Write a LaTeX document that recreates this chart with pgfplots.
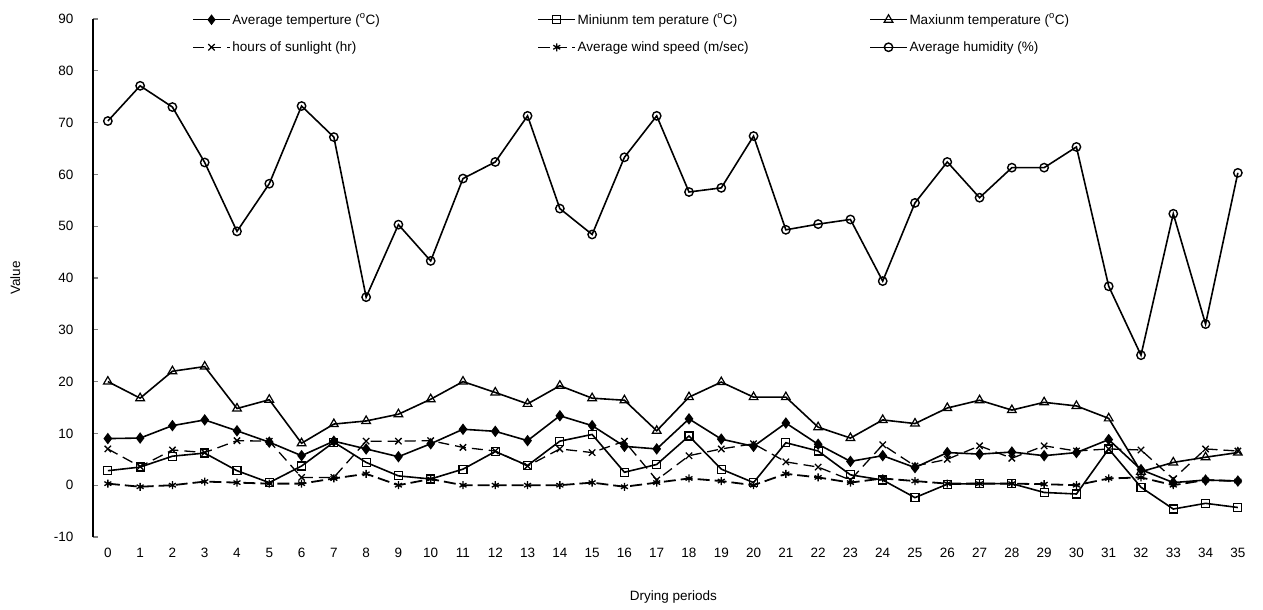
\documentclass[border=0pt]{standalone}
\usepackage{pgfplots}
\pgfplotsset{compat=1.18}
\usepackage{pgfplotstable}
\usepackage{fontspec}
\setmainfont{Liberation Sans}
\pgfplotstableread{
p avg min max sun wind hum
0 9.0 2.8 20.0 7.0 0.3 70.3
1 9.1 3.5 16.8 3.6 -0.3 77.1
2 11.5 5.6 22.0 6.8 0.0 73.0
3 12.6 6.2 22.9 6.3 0.7 62.3
4 10.5 2.8 14.8 8.6 0.5 49.0
5 8.3 0.5 16.5 8.5 0.3 58.2
6 5.7 3.7 8.1 1.5 0.3 73.2
7 8.5 8.3 11.8 1.5 1.3 67.2
8 7.0 4.4 12.4 8.5 2.2 36.3
9 5.5 1.8 13.7 8.5 0.0 50.3
10 8.0 1.2 16.6 8.6 1.2 43.3
11 10.8 3.1 20.0 7.3 0.0 59.2
12 10.4 6.5 17.9 6.6 0.0 62.4
13 8.6 3.8 15.7 3.7 0.0 71.3
14 13.4 8.5 19.2 7.0 0.0 53.4
15 11.5 9.8 16.8 6.3 0.5 48.4
16 7.5 2.5 16.4 8.5 -0.3 63.3
17 7.0 4.0 10.5 1.0 0.5 71.3
18 12.8 9.5 17.0 5.7 1.3 56.6
19 8.9 3.1 19.9 7.0 0.8 57.4
20 7.5 0.5 17.0 8.0 0.0 67.4
21 12.0 8.2 17.0 4.5 2.2 49.3
22 7.9 6.6 11.2 3.5 1.5 50.4
23 4.6 2.0 9.1 1.0 0.5 51.3
24 5.7 1.0 12.6 7.8 1.3 39.4
25 3.4 -2.4 11.9 3.7 0.8 54.5
26 6.3 0.2 14.9 5.0 0.3 62.4
27 6.0 0.3 16.4 7.6 0.3 55.5
28 6.4 0.3 14.5 5.2 0.3 61.3
29 5.7 -1.4 16.0 7.6 0.2 61.3
30 6.3 -1.7 15.3 6.6 0.0 65.3
31 8.8 7.0 12.9 7.0 1.3 38.4
32 3.0 -0.4 2.6 6.8 1.5 25.1
33 0.5 -4.6 4.4 1.2 0.0 52.4
34 1.0 -3.5 5.4 7.0 1.0 31.1
35 0.8 -4.3 6.3 6.6 0.8 60.3
}\data
\begin{document}
\begin{tikzpicture}
\path[use as bounding box] (0,0) rectangle (1263bp,610bp);
\begin{axis}[
  at={(93bp,73bp)}, anchor=south west,
  scale only axis, width=1161bp, height=518bp,
  xmin=-0.46, xmax=35.5, ymin=-10, ymax=90,
  axis y line=left, axis x line*=bottom,
  axis line style={-, line width=1.3bp},
  x axis line style={draw=none},
  xtick={0,...,35}, ytick={-10,0,...,90},
  xtick style={draw=none},
  ytick style={line width=1.1bp},
  tick align=inside, major tick length=5bp,
  yticklabel style={xshift=-16bp},
  xticklabel style={yshift=-8bp},
  tick label style={font=\fontsize{13.5bp}{15bp}\selectfont},
  /pgf/number format/assume math mode=true,
  xlabel={Drying periods}, ylabel={Value},
  label style={font=\fontsize{13.5bp}{15bp}\selectfont},
  xlabel style={at={(axis description cs:0.5,-0.116)}, anchor=center},
  ylabel style={at={(axis description cs:-0.067,0.5)}, anchor=center},
  every axis plot/.append style={line width=1.6bp, black},
  legend columns=3,
  legend cell align=left,
  legend style={draw=none, fill=none, at={(0.083,1.018)}, anchor=north west,
    font=\fontsize{13.5bp}{15bp}\selectfont,
    row sep=12bp,
    /tikz/column 2/.style={column sep=156bp},
    /tikz/column 4/.style={column sep=119bp}},
  legend image code/.code={\draw[mark repeat=2,mark phase=2, line width=1.1bp] plot coordinates {(0cm,0cm) (0.65cm,0cm) (1.3cm,0cm)};},
]
\addplot[mark=diamond*, mark size=4.5bp, mark options={solid, fill=black}] table[x=p,y=avg]{\data};
\addlegendentry{Average temperture ($^{\mathrm{o}}$C)}
\addplot[mark=square, mark size=4bp, mark options={solid, fill=white, line width=1.2bp}] table[x=p,y=min]{\data};
\addlegendentry{Miniunm tem perature ($^{\mathrm{o}}$C)}
\addplot[mark=triangle, mark size=5bp, mark options={solid, fill=white, line width=1.2bp}] table[x=p,y=max]{\data};
\addlegendentry{Maxiunm temperature ($^{\mathrm{o}}$C)}
\addplot[dash pattern=on 11bp off 6bp, line width=1.3bp, mark=x, mark size=4.5bp, mark options={solid, line width=1.3bp}] table[x=p,y=sun]{\data};
\addlegendentry{hours of sunlight (hr)}
\addplot[dash pattern=on 12bp off 5bp, line width=1.8bp, mark=asterisk, mark size=4bp, mark options={solid, line width=1.3bp}] table[x=p,y=wind]{\data};
\addlegendentry{Average wind speed (m/sec)}
\addplot[mark=o, mark size=4.2bp, mark options={solid, fill=white, line width=1.4bp}] table[x=p,y=hum]{\data};
\addlegendentry{Average humidity (\%)}
\end{axis}
\end{tikzpicture}
\end{document}
